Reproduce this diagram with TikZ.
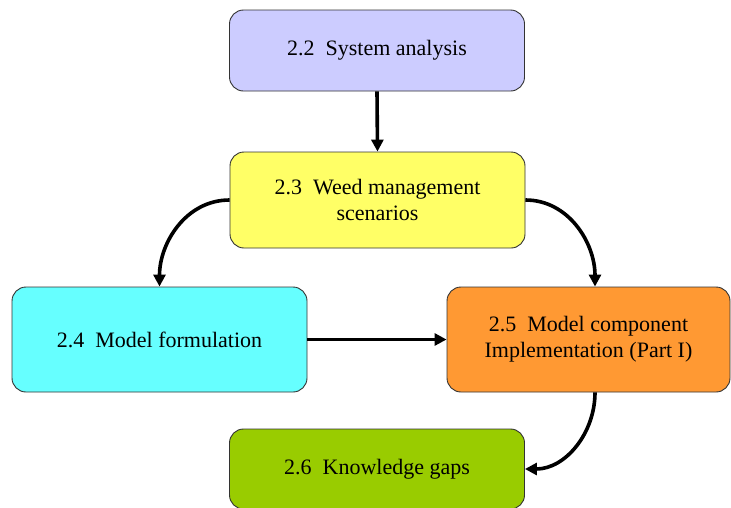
\documentclass[tikz,border=0pt]{standalone}
\usepackage{fontspec}
\setmainfont{Liberation Serif}
\usetikzlibrary{arrows.meta}
\definecolor{clav}{HTML}{CCCCFF}
\definecolor{cyel}{HTML}{FFFF66}
\definecolor{ccya}{HTML}{66FFFF}
\definecolor{cora}{HTML}{FF9933}
\definecolor{cgrn}{HTML}{99CC00}
\definecolor{cbord}{HTML}{333333}
\begin{document}
\begin{tikzpicture}[x=1pt,y=-1pt,
  box/.style={draw=cbord,line width=0.9pt,rounded corners=14pt,inner sep=0pt,
    align=center,font=\fontsize{22}{26}\selectfont},
  arr/.style={line width=3.6pt,-{Triangle[length=12pt,width=12pt]}}]
\useasboundingbox (0,0) rectangle (731,507);
\clip (0,0) rectangle (731,507);
\node[box,fill=clav,minimum width=295pt,minimum height=81pt] (n22) at (377,50.5) {2.2\ \ System analysis};
\node[box,fill=cyel,minimum width=295pt,minimum height=96pt] (n23) at (377.5,200) {2.3\ \ Weed management\\scenarios};
\node[box,fill=ccya,minimum width=295pt,minimum height=105pt] (n24) at (159.5,339.5) {2.4\ \ Model formulation};
\node[box,fill=cora,minimum width=283pt,minimum height=105pt] (n25) at (588.5,339.5) {2.5\ \ Model component\\Implementation (Part I)};
\node[box,fill=cgrn,minimum width=295pt,minimum height=80pt] (n26) at (377,469) {2.6\ \ Knowledge gaps};
\draw[arr] (n22.south) -- (n23.north);
\draw[arr] (n23.west) to[out=180,in=90] (n24.north);
\draw[arr] (n23.east) to[out=0,in=90] ([xshift=6.5pt]n25.north);
\draw[arr] (n24.east) -- (n25.west);
\draw[arr] ([xshift=6.5pt]n25.south) to[out=-90,in=0] (n26.east);
\end{tikzpicture}
\end{document}
